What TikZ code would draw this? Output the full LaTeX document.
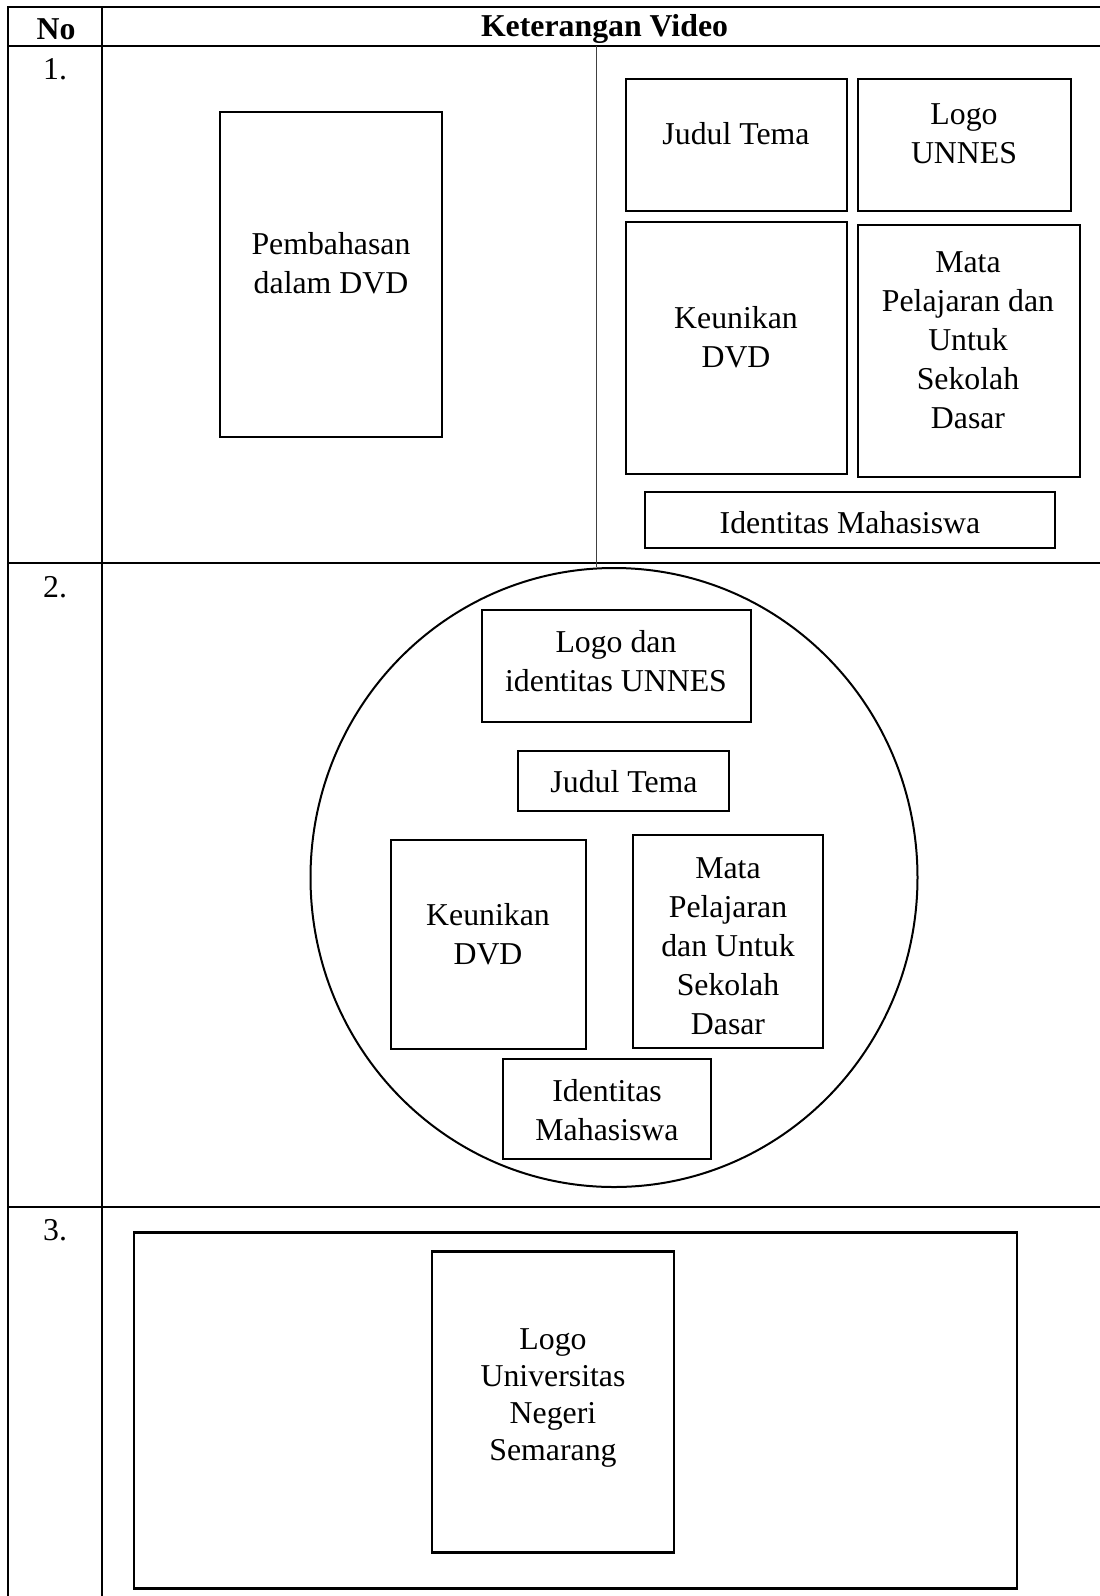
\documentclass[tikz,border=0pt]{standalone}
\usepackage{fontspec}
\setmainfont{Liberation Serif}
\usetikzlibrary{shapes.geometric}
\begin{document}
\begin{tikzpicture}[x=1pt,y=-1pt,
  tbl/.style={line width=2pt},
  thin/.style={line width=1pt,draw=black!75},
  box/.style={draw,line width=2.2pt,inner sep=0pt},
  txt/.style={font=\fontsize{31.8}{39}\selectfont,align=center,inner sep=0pt},
  txtb/.style={font=\fontsize{31.8}{37}\selectfont,align=center,inner sep=0pt},
  hdr/.style={font=\fontsize{31.8}{39}\selectfont\bfseries,inner sep=0pt},
  num/.style={font=\fontsize{31.8}{39}\selectfont,anchor=west,inner sep=0pt}]
\useasboundingbox (0,0) rectangle (1100,1596);
\fill[white] (0,0) rectangle (1100,1596);
% table grid
\coordinate (tl) at (8.3,7.3);
\coordinate (tr) at (1102,7.3);
\coordinate (bl) at (8.3,1600);
\coordinate (cdt) at (102.3,7.3);
\coordinate (cdb) at (102.3,1600);
\draw[tbl] (bl) -- (tl) -- (tr);
\draw[tbl] (cdt) -- (cdb);
\coordinate (h1l) at (8.3,45.7); \coordinate (h1r) at (1102,45.7);
\coordinate (h2l) at (8.3,562.7); \coordinate (h2r) at (1102,562.7);
\coordinate (h3l) at (8.3,1206.7); \coordinate (h3r) at (1102,1206.7);
\draw[tbl] (h1l) -- (h1r);
\draw[tbl] (h2l) -- (h2r);
\draw[tbl] (h3l) -- (h3r);
% header
\node[hdr] (hno) at (56,29) {No};
\node[hdr] (hket) at (604.5,29) {Keterangan Video};
% numbers
\node[num] (n1) at (43,69) {1.};
\node[num] (n2) at (43,587) {2.};
\node[num] (n3) at (43,1230) {3.};
% row 1
\node[box,minimum width=222pt,minimum height=325pt] (pem) at (331,274.5) {};
\node[txt] (tpem) at (331,263) {Pembahasan\\dalam DVD};
\node[box,minimum width=221pt,minimum height=132pt] (jt1) at (736.5,145) {};
\node[txt] (tjt1) at (736,134) {Judul Tema};
\node[box,minimum width=213pt,minimum height=132pt] (lg1) at (964.5,145) {};
\node[txt] (tlg1) at (964,134) {Logo\\UNNES};
\node[box,minimum width=221pt,minimum height=252pt] (ku1) at (736.5,348) {};
\node[txt] (tku1) at (736,337) {Keunikan\\DVD};
\node[box,minimum width=222pt,minimum height=252pt] (mp1) at (969,351) {};
\node[txt] (tmp1) at (968,340) {Mata\\Pelajaran dan\\Untuk\\Sekolah\\Dasar};
\node[box,minimum width=410pt,minimum height=56pt] (id1) at (850,520) {};
\node[txt] (tid1) at (850,523) {Identitas Mahasiswa};
% row 2
\node[draw,line width=2pt,ellipse,minimum width=607pt,minimum height=619pt,inner sep=0pt] (circ) at (614,877.5) {};
\coordinate (vt) at (596.7,45.7);
\draw[thin] (vt) -- (vt |- circ.north);
\node[box,minimum width=269pt,minimum height=112pt] (lg2) at (616.5,666) {};
\node[txt] (tlg2) at (616,661) {Logo dan\\identitas UNNES};
\node[box,minimum width=211pt,minimum height=60pt] (jt2) at (623.5,781) {};
\node[txt] (tjt2) at (624,782) {Judul Tema};
\node[box,minimum width=195pt,minimum height=209pt] (ku2) at (488.5,944.5) {};
\node[txt] (tku2) at (488,934.5) {Keunikan\\DVD};
\node[box,minimum width=190pt,minimum height=213pt] (mp2) at (728,941.5) {};
\node[txt] (tmp2) at (728,946) {Mata\\Pelajaran\\dan Untuk\\Sekolah\\Dasar};
\node[box,minimum width=208pt,minimum height=100pt] (id2) at (607,1109) {};
\node[txt] (tid2) at (607,1110) {Identitas\\Mahasiswa};
% row 3
\node[box,minimum width=883pt,minimum height=356pt] (outer) at (575.5,1410.5) {};
\node[box,minimum width=242pt,minimum height=301pt] (inner) at (553,1402) {};
\node[txtb] (tinner) at (553,1398) {Logo\\Universitas\\Negeri\\Semarang};
\end{tikzpicture}
\end{document}
